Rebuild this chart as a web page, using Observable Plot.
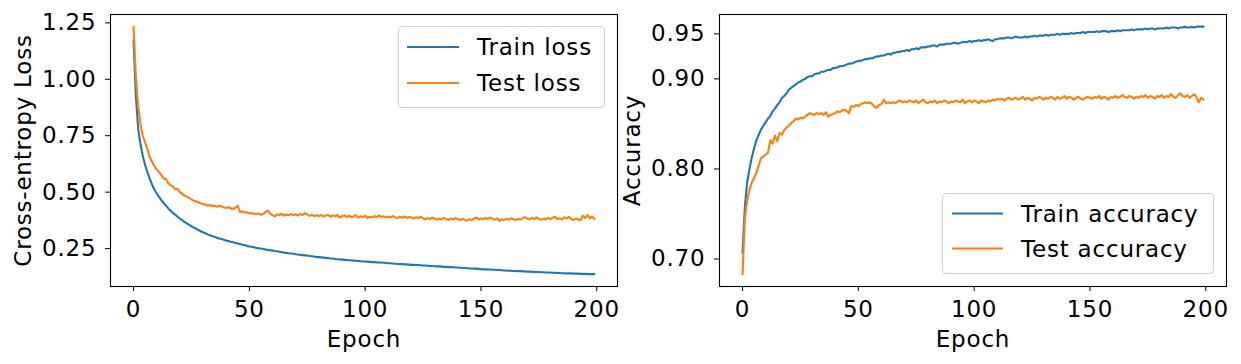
<!DOCTYPE html>
<html><head><meta charset="utf-8">
<script src="https://cdn.jsdelivr.net/npm/d3@7"></script>
<script src="https://cdn.jsdelivr.net/npm/@observablehq/plot@0.6"></script>
<style>
html,body{margin:0;padding:0;background:#fff;}
#chart{position:relative;width:1241px;height:364px;overflow:hidden;font-family:"DejaVu Sans";}
#chart > svg{position:absolute;top:0;}
</style></head><body><div id="chart"></div>
<script>
// Per-epoch values (epochs 0..199)
const trainLoss = [
1.174,0.930,0.780,0.712,0.660,0.620,0.588,0.560,0.533,0.512,
0.494,0.479,0.465,0.452,0.440,0.428,0.418,0.408,0.400,0.391,
0.383,0.376,0.368,0.362,0.355,0.349,0.343,0.338,0.332,0.327,
0.322,0.318,0.313,0.309,0.305,0.302,0.298,0.295,0.292,0.289,
0.286,0.283,0.280,0.278,0.275,0.272,0.270,0.267,0.265,0.262,
0.259,0.258,0.256,0.253,0.251,0.250,0.248,0.246,0.244,0.243,
0.241,0.239,0.238,0.236,0.234,0.232,0.231,0.229,0.228,0.227,
0.225,0.224,0.222,0.221,0.220,0.219,0.217,0.216,0.215,0.213,
0.212,0.211,0.210,0.209,0.208,0.206,0.206,0.204,0.203,0.202,
0.201,0.200,0.199,0.198,0.197,0.197,0.196,0.195,0.194,0.193,
0.193,0.192,0.191,0.190,0.190,0.189,0.188,0.188,0.187,0.186,
0.185,0.185,0.184,0.183,0.182,0.182,0.181,0.180,0.180,0.179,
0.178,0.178,0.177,0.177,0.176,0.175,0.175,0.174,0.173,0.173,
0.172,0.171,0.171,0.170,0.169,0.169,0.168,0.168,0.167,0.166,
0.166,0.165,0.164,0.164,0.163,0.162,0.162,0.161,0.161,0.160,
0.159,0.158,0.158,0.157,0.157,0.156,0.156,0.155,0.155,0.154,
0.153,0.153,0.152,0.152,0.151,0.151,0.150,0.150,0.149,0.149,
0.148,0.148,0.147,0.147,0.146,0.146,0.145,0.145,0.144,0.144,
0.144,0.143,0.143,0.142,0.142,0.141,0.141,0.140,0.140,0.140,
0.139,0.139,0.139,0.138,0.138,0.138,0.137,0.137,0.137,0.137];

const testLoss = [
1.232,1.010,0.880,0.800,0.750,0.720,0.690,0.655,0.635,0.615,
0.600,0.590,0.575,0.560,0.558,0.540,0.530,0.525,0.512,0.515,
0.500,0.492,0.485,0.480,0.475,0.468,0.462,0.460,0.455,0.450,
0.447,0.445,0.440,0.443,0.438,0.440,0.435,0.440,0.436,0.432,
0.430,0.433,0.428,0.426,0.431,0.440,0.412,0.414,0.410,0.411,
0.405,0.408,0.404,0.402,0.406,0.400,0.403,0.412,0.418,0.405,
0.398,0.392,0.402,0.399,0.404,0.396,0.401,0.397,0.403,0.398,
0.402,0.396,0.404,0.399,0.407,0.401,0.395,0.400,0.394,0.398,
0.393,0.399,0.392,0.396,0.400,0.391,0.397,0.393,0.399,0.388,
0.394,0.397,0.390,0.396,0.389,0.392,0.398,0.387,0.393,0.390,
0.395,0.386,0.391,0.388,0.394,0.389,0.396,0.390,0.393,0.387,
0.392,0.388,0.394,0.389,0.385,0.391,0.387,0.392,0.386,0.390,
0.388,0.383,0.389,0.385,0.391,0.384,0.379,0.385,0.381,0.387,
0.383,0.378,0.384,0.379,0.386,0.381,0.377,0.383,0.379,0.385,
0.381,0.376,0.382,0.377,0.374,0.380,0.376,0.383,0.387,0.379,
0.384,0.380,0.386,0.381,0.387,0.382,0.378,0.384,0.373,0.379,
0.377,0.382,0.378,0.385,0.380,0.376,0.382,0.378,0.385,0.389,
0.383,0.379,0.386,0.381,0.388,0.382,0.377,0.383,0.379,0.386,
0.381,0.387,0.391,0.380,0.385,0.379,0.389,0.383,0.390,0.380,
0.377,0.383,0.379,0.376,0.395,0.386,0.398,0.384,0.392,0.381];

const trainAcc = [
0.707,0.758,0.785,0.800,0.813,0.823,0.832,0.838,0.844,0.848,
0.852,0.856,0.859,0.864,0.867,0.871,0.874,0.879,0.881,0.884,
0.888,0.890,0.892,0.894,0.896,0.897,0.899,0.900,0.902,0.903,
0.903,0.905,0.906,0.906,0.908,0.908,0.909,0.910,0.910,0.912,
0.912,0.913,0.914,0.914,0.915,0.916,0.917,0.917,0.918,0.919,
0.920,0.920,0.921,0.922,0.922,0.923,0.923,0.924,0.925,0.925,
0.926,0.926,0.927,0.928,0.927,0.929,0.929,0.930,0.930,0.931,
0.931,0.932,0.931,0.933,0.933,0.934,0.933,0.935,0.935,0.935,
0.936,0.936,0.937,0.937,0.936,0.938,0.938,0.938,0.939,0.939,
0.939,0.940,0.940,0.939,0.940,0.941,0.941,0.941,0.942,0.941,
0.942,0.942,0.943,0.942,0.943,0.943,0.944,0.943,0.942,0.944,
0.944,0.945,0.945,0.945,0.946,0.946,0.945,0.946,0.947,0.946,
0.946,0.946,0.947,0.946,0.947,0.947,0.948,0.947,0.948,0.948,
0.948,0.949,0.948,0.949,0.949,0.949,0.950,0.949,0.950,0.950,
0.950,0.950,0.951,0.950,0.951,0.951,0.951,0.952,0.951,0.952,
0.952,0.952,0.952,0.953,0.952,0.953,0.953,0.953,0.952,0.953,
0.953,0.953,0.954,0.953,0.954,0.954,0.954,0.954,0.955,0.954,
0.955,0.955,0.955,0.955,0.956,0.955,0.956,0.956,0.955,0.956,
0.956,0.956,0.956,0.957,0.956,0.957,0.957,0.957,0.956,0.957,
0.957,0.958,0.957,0.957,0.958,0.957,0.958,0.958,0.958,0.958];

const testAcc = [
0.683,0.745,0.765,0.777,0.785,0.790,0.796,0.804,0.812,0.814,
0.816,0.818,0.832,0.828,0.837,0.831,0.840,0.838,0.843,0.846,
0.848,0.851,0.853,0.856,0.855,0.857,0.856,0.858,0.860,0.862,
0.861,0.860,0.862,0.861,0.862,0.860,0.863,0.858,0.860,0.861,
0.862,0.864,0.863,0.865,0.866,0.864,0.862,0.870,0.869,0.871,
0.870,0.872,0.873,0.874,0.873,0.874,0.872,0.869,0.868,0.871,
0.872,0.877,0.873,0.874,0.873,0.874,0.873,0.875,0.876,0.874,
0.875,0.874,0.876,0.875,0.874,0.876,0.873,0.875,0.877,0.874,
0.873,0.875,0.874,0.876,0.873,0.875,0.874,0.876,0.875,0.873,
0.875,0.874,0.876,0.875,0.874,0.877,0.873,0.875,0.876,0.874,
0.876,0.875,0.873,0.876,0.875,0.874,0.876,0.875,0.877,0.876,
0.878,0.877,0.878,0.876,0.878,0.879,0.877,0.878,0.879,0.877,
0.878,0.880,0.877,0.879,0.878,0.876,0.879,0.878,0.880,0.879,
0.877,0.879,0.878,0.880,0.879,0.877,0.880,0.878,0.879,0.881,
0.878,0.880,0.879,0.877,0.879,0.880,0.878,0.877,0.879,0.880,
0.879,0.878,0.880,0.879,0.881,0.878,0.880,0.879,0.877,0.880,
0.879,0.881,0.879,0.880,0.882,0.880,0.879,0.881,0.880,0.878,
0.880,0.879,0.881,0.880,0.882,0.879,0.881,0.880,0.878,0.881,
0.880,0.882,0.879,0.881,0.880,0.883,0.880,0.879,0.882,0.884,
0.881,0.880,0.882,0.879,0.881,0.883,0.880,0.874,0.879,0.877];

const epochTicks = [0, 50, 100, 150, 200];
const lossTicks = [0.25, 0.50, 0.75, 1.00, 1.25];
const accTicks = [0.70, 0.80, 0.90, 0.95];
const lossLabels = ["Train loss", "Test loss"];
const accLabels = ["Train accuracy", "Test accuracy"];
const seriesColors = ["#1f77b4", "#ff7f0e"];

const FONT = {fontFamily: "DejaVu Sans", fontSize: "23px", letterSpacing: "0.8px",
  overflow: "visible", background: "transparent", color: "#000"};

function panel({left, width, marginLeft, marginRight, yDomain, yTicks, yLabel, train, test}) {
  const svg = Plot.plot({
    width, height: 364, marginLeft, marginRight, marginTop: 14, marginBottom: 78,
    style: FONT,
    x: {domain: [-9.95, 208.95]},
    y: {domain: yDomain},
    marks: [
      Plot.lineY(train, {x: (d, i) => i, y: d => d, stroke: seriesColors[0], strokeWidth: 2.1}),
      Plot.lineY(test, {x: (d, i) => i, y: d => d, stroke: seriesColors[1], strokeWidth: 2.1}),
      Plot.frame({stroke: "#000", strokeWidth: 1.1}),
      Plot.axisX({ticks: epochTicks, tickFormat: d3.format("d"), tickSize: 5, tickPadding: 9,
        label: "Epoch", labelAnchor: "center", labelOffset: 60, labelArrow: "none"}),
      Plot.axisY({ticks: yTicks, tickFormat: d3.format(".2f"), tickSize: 5, tickPadding: 9,
        label: yLabel, labelAnchor: "center", labelOffset: 96, labelArrow: "none"})
    ]
  });
  svg.style.left = left + "px";
  return svg;
}

const chart = document.getElementById("chart");
chart.append(panel({left: 0, width: 622, marginLeft: 110, marginRight: 5,
  yDomain: [0.082, 1.287], yTicks: lossTicks, yLabel: "Cross-entropy Loss",
  train: trainLoss, test: testLoss}));
chart.append(panel({left: 622, width: 619, marginLeft: 97, marginRight: 15,
  yDomain: [0.6695, 0.9715], yTicks: accTicks, yLabel: "Accuracy",
  train: trainAcc, test: testAcc}));

// Legends (inside each panel, as in the reference)
const overlay = d3.select(chart).append("svg")
  .attr("width", 1241).attr("height", 364)
  .style("left", "0px").style("pointer-events", "none")
  .style("font-family", "DejaVu Sans").style("font-size", "23px").style("letter-spacing", "0.8px");

function legend(box, labels) {
  const g = overlay.append("g");
  g.append("rect").attr("x", box.x + 0.5).attr("y", box.y + 0.5).attr("width", box.w).attr("height", box.h)
    .attr("rx", 4).attr("fill", "rgba(255,255,255,0.8)").attr("stroke", "#d0d0d0").attr("stroke-width", 1.1);
  labels.forEach((lab, i) => {
    const y = box.row0 + i * box.step;
    g.append("line").attr("x1", box.lx0).attr("x2", box.lx1).attr("y1", y).attr("y2", y)
      .attr("stroke", seriesColors[i]).attr("stroke-width", 2.1);
    g.append("text").attr("x", box.tx).attr("y", y).attr("dy", "0.36em").attr("fill", "#000").text(lab);
  });
}
legend({x: 398, y: 26, w: 206, h: 81, row0: 47, step: 36, lx0: 407, lx1: 459, tx: 477}, lossLabels);
legend({x: 942, y: 193, w: 271, h: 80, row0: 213.5, step: 35, lx0: 952, lx1: 1003, tx: 1021}, accLabels);
</script></body></html>
